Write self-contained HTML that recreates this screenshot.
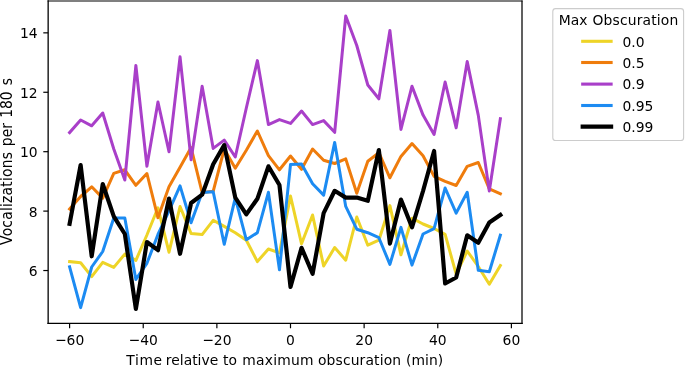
<!DOCTYPE html>
<html lang="en"><head><meta charset="utf-8"><title>Vocalizations vs. obscuration</title>
<style>html,body{margin:0;padding:0;background:#fff}body{width:685px;height:367px;overflow:hidden}svg{display:block;will-change:transform}text{font-family:"DejaVu Sans","Liberation Sans",sans-serif;font-size:13.89px;fill:#000}.ln{fill:none;stroke-linejoin:round;stroke-linecap:square}.tk{stroke:#000;stroke-width:1.2}</style></head><body>
<svg width="685" height="367" viewBox="0 0 685 367">
<rect x="0" y="0" width="685" height="367" fill="#fff"/>
<defs><clipPath id="ax"><rect x="48.15" y="1.0" width="473.85" height="322.4"/></clipPath></defs>
<g clip-path="url(#ax)">
<polyline class="ln" stroke="#EED427" stroke-width="3.0" points="69.60,261.60 80.64,262.80 91.69,276.60 102.73,262.40 113.78,267.40 124.82,254.10 135.87,260.40 146.91,235.00 157.96,207.80 169.00,252.20 180.05,206.50 191.09,233.50 202.14,234.60 213.19,220.30 224.23,226.40 235.28,232.70 246.32,240.20 257.37,261.60 268.41,249.00 279.45,252.80 290.50,196.00 301.54,243.80 312.59,215.00 323.63,266.00 334.68,247.50 345.73,260.20 356.77,217.00 367.81,245.20 378.86,240.20 389.90,205.60 400.95,254.80 412.00,218.20 423.04,224.00 434.09,228.50 445.13,234.40 456.17,274.10 467.22,251.00 478.26,266.50 489.31,284.20 500.36,265.50"/>
<polyline class="ln" stroke="#EF7C0C" stroke-width="3.0" points="69.60,209.00 80.64,196.50 91.69,186.80 102.73,198.10 113.78,173.40 124.82,169.80 135.87,185.30 146.91,173.50 157.96,217.80 169.00,186.70 180.05,167.20 191.09,147.60 202.14,192.60 213.19,191.30 224.23,149.00 235.28,168.20 246.32,150.20 257.37,131.00 268.41,155.70 279.45,169.80 290.50,156.00 301.54,169.30 312.59,149.00 323.63,160.20 334.68,163.50 345.73,158.90 356.77,193.20 367.81,161.30 378.86,152.70 389.90,177.80 400.95,156.40 412.00,143.60 423.04,155.70 434.09,176.40 445.13,181.40 456.17,185.50 467.22,166.30 478.26,162.50 489.31,188.80 500.36,193.80"/>
<polyline class="ln" stroke="#A93FC9" stroke-width="3.0" points="69.60,132.60 80.64,120.00 91.69,125.80 102.73,113.00 113.78,149.00 124.82,180.00 135.87,65.50 146.91,166.30 157.96,102.00 169.00,151.80 180.05,56.80 191.09,159.80 202.14,86.20 213.19,148.40 224.23,140.10 235.28,157.00 246.32,108.00 257.37,60.60 268.41,124.60 279.45,119.60 290.50,123.40 301.54,111.00 312.59,124.60 323.63,120.60 334.68,132.30 345.73,16.00 356.77,45.50 367.81,85.00 378.86,98.80 389.90,30.50 400.95,129.40 412.00,86.20 423.04,115.10 434.09,134.40 445.13,82.00 456.17,127.80 467.22,61.60 478.26,115.10 489.31,191.10 500.36,118.70"/>
<polyline class="ln" stroke="#1C8BF2" stroke-width="3.0" points="69.60,266.80 80.64,307.60 91.69,267.00 102.73,251.50 113.78,218.00 124.82,218.00 135.87,279.40 146.91,263.30 157.96,234.50 169.00,210.80 180.05,185.90 191.09,222.80 202.14,192.60 213.19,191.80 224.23,244.30 235.28,197.80 246.32,239.80 257.37,232.70 268.41,192.30 279.45,269.80 290.50,164.60 301.54,163.90 312.59,183.80 323.63,195.10 334.68,142.40 345.73,206.40 356.77,229.20 367.81,232.70 378.86,237.70 389.90,264.40 400.95,227.40 412.00,265.10 423.04,234.00 434.09,228.70 445.13,188.00 456.17,213.10 467.22,192.30 478.26,270.30 489.31,271.80 500.36,235.20"/>
<polyline class="ln" stroke="#000000" stroke-width="4.17" points="69.60,223.90 80.64,165.00 91.69,256.30 102.73,184.00 113.78,216.40 124.82,234.00 135.87,309.00 146.91,242.00 157.96,250.20 169.00,198.50 180.05,253.80 191.09,203.00 202.14,194.70 213.19,164.30 224.23,145.10 235.28,197.60 246.32,214.40 257.37,198.80 268.41,166.30 279.45,185.00 290.50,287.00 301.54,247.80 312.59,273.80 323.63,213.10 334.68,190.80 345.73,197.60 356.77,197.60 367.81,200.80 378.86,150.00 389.90,243.60 400.95,199.60 412.00,227.30 423.04,191.00 434.09,151.00 445.13,283.50 456.17,277.50 467.22,235.30 478.26,242.80 489.31,222.50 500.36,215.00"/>
</g>
<path d="M48.15 323.4V1.0" fill="none" stroke="#000" stroke-width="1.3" stroke-linecap="square"/>
<path d="M522.0 323.4V1.0" fill="none" stroke="#000" stroke-width="1.25" stroke-linecap="square"/>
<path d="M48.15 1.0H522.0" fill="none" stroke="#000" stroke-width="1.1" stroke-linecap="square"/>
<path d="M48.15 323.4H522.0" fill="none" stroke="#000" stroke-width="1.4" stroke-linecap="square"/>
<line class="tk" x1="69.60" x2="69.60" y1="323.4" y2="328.26"/>
<text transform="translate(69.60,345.1) scale(1,1.06)" text-anchor="middle">−60</text>
<line class="tk" x1="143.23" x2="143.23" y1="323.4" y2="328.26"/>
<text transform="translate(143.23,345.1) scale(1,1.06)" text-anchor="middle">−40</text>
<line class="tk" x1="216.87" x2="216.87" y1="323.4" y2="328.26"/>
<text transform="translate(216.87,345.1) scale(1,1.06)" text-anchor="middle">−20</text>
<line class="tk" x1="290.50" x2="290.50" y1="323.4" y2="328.26"/>
<text transform="translate(290.50,345.1) scale(1,1.06)" text-anchor="middle">0</text>
<line class="tk" x1="364.13" x2="364.13" y1="323.4" y2="328.26"/>
<text transform="translate(364.13,345.1) scale(1,1.06)" text-anchor="middle">20</text>
<line class="tk" x1="437.77" x2="437.77" y1="323.4" y2="328.26"/>
<text transform="translate(437.77,345.1) scale(1,1.06)" text-anchor="middle">40</text>
<line class="tk" x1="511.40" x2="511.40" y1="323.4" y2="328.26"/>
<text transform="translate(511.40,345.1) scale(1,1.06)" text-anchor="middle">60</text>
<line class="tk" x1="48.15" x2="43.29" y1="270.53" y2="270.53"/>
<text transform="translate(37.6,276.03) scale(1,1.06)" text-anchor="end">6</text>
<line class="tk" x1="48.15" x2="43.29" y1="211.11" y2="211.11"/>
<text transform="translate(37.6,216.61) scale(1,1.06)" text-anchor="end">8</text>
<line class="tk" x1="48.15" x2="43.29" y1="151.69" y2="151.69"/>
<text transform="translate(37.6,157.19) scale(1,1.06)" text-anchor="end">10</text>
<line class="tk" x1="48.15" x2="43.29" y1="92.27" y2="92.27"/>
<text transform="translate(37.6,97.77) scale(1,1.06)" text-anchor="end">12</text>
<line class="tk" x1="48.15" x2="43.29" y1="32.85" y2="32.85"/>
<text transform="translate(37.6,38.35) scale(1,1.06)" text-anchor="end">14</text>
<text transform="translate(0,364.9) scale(1,1.07)"><tspan x="126.27" textLength="35.81" lengthAdjust="spacing">Time</tspan> <tspan x="165.85">relative</tspan> <tspan x="223.05">to</tspan> <tspan x="242.25" textLength="71.30" lengthAdjust="spacing">maximum</tspan> <tspan x="317.94" textLength="83.18" lengthAdjust="spacing">obscuration</tspan> <tspan x="406.12">(min)</tspan></text>
<text transform="translate(11.6,0) rotate(-90) scale(1,1.09)"><tspan x="-244.97" textLength="92.89" lengthAdjust="spacing">Vocalizations</tspan> <tspan x="-146.15">per</tspan> <tspan x="-117.86">180</tspan> <tspan x="-85.29">s</tspan></text>
<rect x="552.8" y="8.6" width="130.8" height="131.9" rx="2.8" ry="2.8" fill="#fff" fill-opacity="0.8" stroke="#cccccc" stroke-width="1.1"/>
<text transform="translate(0,24.9) scale(1,1.07)"><tspan x="558.88">Max</tspan> <tspan x="592.54" textLength="85.69" lengthAdjust="spacing">Obscuration</tspan></text>
<line x1="582.7" x2="611.1" y1="41.3" y2="41.3" stroke="#EED427" stroke-width="3.1" stroke-linecap="square"/>
<text transform="translate(622.4,46.50) scale(1,1.06)">0.0</text>
<line x1="582.7" x2="611.1" y1="62.5" y2="62.5" stroke="#EF7C0C" stroke-width="3.1" stroke-linecap="square"/>
<text transform="translate(622.4,67.70) scale(1,1.06)">0.5</text>
<line x1="582.7" x2="611.1" y1="84.1" y2="84.1" stroke="#A93FC9" stroke-width="3.1" stroke-linecap="square"/>
<text transform="translate(622.4,89.30) scale(1,1.06)">0.9</text>
<line x1="582.7" x2="611.1" y1="105.5" y2="105.5" stroke="#1C8BF2" stroke-width="3.1" stroke-linecap="square"/>
<text transform="translate(622.4,110.70) scale(1,1.06)">0.95</text>
<line x1="582.7" x2="611.1" y1="126.6" y2="126.6" stroke="#000000" stroke-width="4.17" stroke-linecap="square"/>
<text transform="translate(622.4,131.80) scale(1,1.06)">0.99</text>
</svg></body></html>
